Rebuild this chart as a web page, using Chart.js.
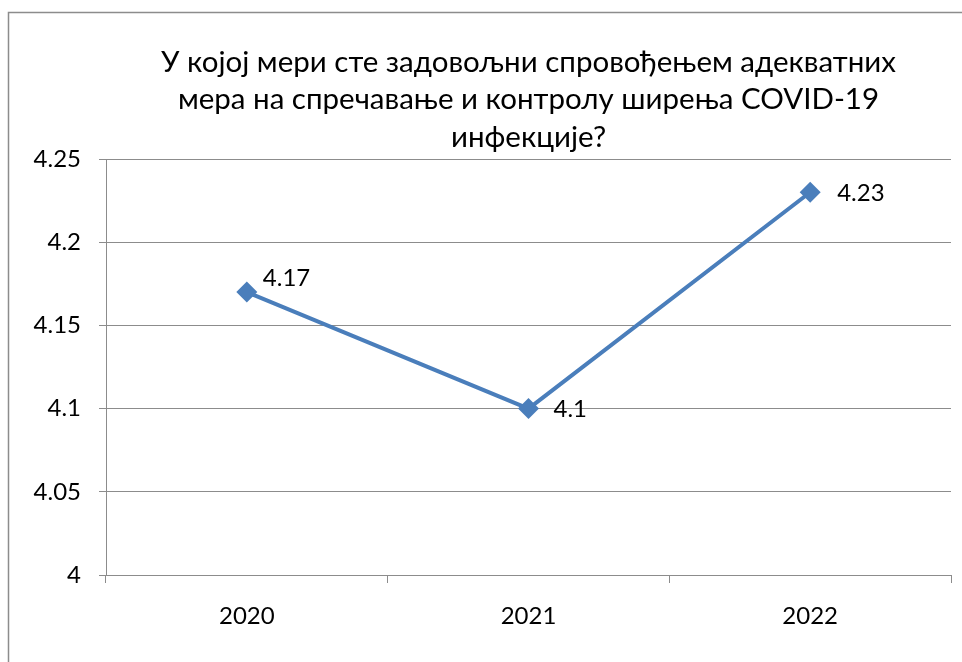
<!DOCTYPE html>
<html lang="sr">
<head>
    <meta charset="UTF-8">
    <title>COVID-19 мере</title>
    <script src="https://cdn.jsdelivr.net/npm/chart.js@4.4.0/dist/chart.umd.min.js"></script>
    <style>
        html, body { margin: 0; padding: 0; background: #ffffff; }
        canvas { display: block; }
    </style>
</head>
<body>
    <canvas id="chart" width="962" height="662"></canvas>

    <script>
        // Chart data
        const years = ['2020', '2021', '2022'];
        const scores = [4.17, 4.1, 4.23];
        const titleLines = [
            'У којој мери сте задовољни спровођењем адекватних',
            'мера на спречавање и контролу ширења COVID-19',
            'инфекције?'
        ];

        const FONT = 'Lato, "Open Sans", sans-serif';
        const GRID = '#8c8c8c';
        const BLUE = '#4a7ebb';

        // label nudges (px) relative to each point, as in the original
        const labelShift = [[16, -14], [25, 1], [27, 1]];

        // white frame with the thin gray border (top and left are visible)
        const framePlugin = {
            id: 'frame',
            beforeDraw(chart) {
                const ctx = chart.ctx;
                ctx.save();
                ctx.fillStyle = '#ffffff';
                ctx.fillRect(0, 0, chart.width, chart.height);
                ctx.strokeStyle = GRID;
                ctx.lineWidth = 1.5;
                ctx.beginPath();
                ctx.moveTo(8.5, chart.height + 2);
                ctx.lineTo(8.5, 12.5);
                ctx.lineTo(chart.width + 2, 12.5);
                ctx.stroke();
                ctx.restore();
            }
        };

        // title centred over the plot area, three lines
        const titlePlugin = {
            id: 'bigTitle',
            afterDraw(chart) {
                const ctx = chart.ctx;
                const area = chart.chartArea;
                const cx = (area.left + area.right) / 2;
                const baselines = [72, 109, 147];
                ctx.save();
                ctx.font = '29.5px ' + FONT;
                ctx.fillStyle = '#000000';
                ctx.textAlign = 'center';
                ctx.textBaseline = 'alphabetic';
                titleLines.forEach((line, i) => ctx.fillText(line, cx, baselines[i]));
                ctx.restore();
            }
        };

        // value labels to the right of each marker
        const valueLabels = {
            id: 'valueLabels',
            afterDatasetsDraw(chart) {
                const ctx = chart.ctx;
                const meta = chart.getDatasetMeta(0);
                ctx.save();
                ctx.font = '24px ' + FONT;
                ctx.fillStyle = '#000000';
                ctx.textAlign = 'left';
                ctx.textBaseline = 'middle';
                meta.data.forEach((pt, i) => {
                    const s = labelShift[i] || [20, 0];
                    ctx.fillText(String(scores[i]), pt.x + s[0], pt.y + s[1]);
                });
                ctx.restore();
            }
        };

        const config = {
            type: 'line',
            data: {
                labels: years,
                datasets: [{
                    data: scores,
                    borderColor: BLUE,
                    backgroundColor: BLUE,
                    borderWidth: 4,
                    pointStyle: 'rectRot',
                    pointRadius: 10.5,
                    pointBorderWidth: 0,
                    pointBackgroundColor: BLUE,
                    tension: 0
                }]
            },
            options: {
                responsive: false,
                animation: false,
                layout: { padding: { left: 0, right: 11, top: 159, bottom: 0 } },
                plugins: {
                    legend: { display: false },
                    title: { display: false },
                    tooltip: { enabled: false }
                },
                scales: {
                    x: {
                        offset: true,
                        grid: {
                            offset: true,
                            drawOnChartArea: false,
                            drawTicks: true,
                            tickLength: 8,
                            color: GRID
                        },
                        border: { color: GRID, width: 1 },
                        ticks: {
                            color: '#000000',
                            font: { family: FONT, size: 24 },
                            padding: 19,
                            maxRotation: 0
                        },
                        afterFit(scale) { scale.height = 87; }
                    },
                    y: {
                        min: 4,
                        max: 4.25,
                        grid: {
                            color: GRID,
                            tickLength: 7
                        },
                        border: { color: GRID, width: 1 },
                        ticks: {
                            stepSize: 0.05,
                            color: '#000000',
                            font: { family: FONT, size: 24 },
                            padding: 18,
                            callback: v => String(parseFloat(v.toFixed(2)))
                        },
                        afterFit(scale) { scale.width = 106; }
                    }
                }
            },
            plugins: [framePlugin, valueLabels, titlePlugin]
        };

        new Chart(document.getElementById('chart'), config);
    </script>
</body>
</html>
